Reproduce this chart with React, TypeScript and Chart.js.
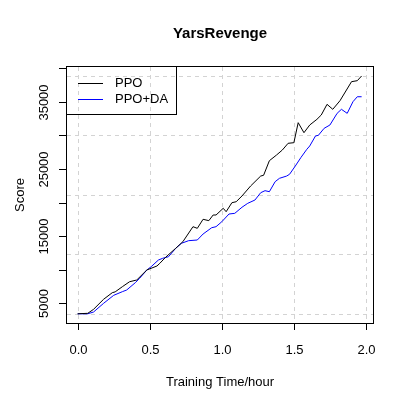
import { useEffect, useRef } from "react";
import { Chart, registerables } from "chart.js";
Chart.register(...registerables);

const TITLE = "YarsRevenge";
const X_LABEL = "Training Time/hour";
const Y_LABEL = "Score";
const SERIES_NAMES = ["PPO", "PPO+DA"];
const SERIES_COLORS = ["#000000", "#0000FF"];

const ppoTime = [0, 0.07, 0.11, 0.18, 0.24, 0.26, 0.31, 0.36, 0.41, 0.48, 0.55, 0.57, 0.61, 0.68, 0.73, 0.8, 0.83, 0.87, 0.91, 0.94, 0.96, 1.01, 1.03, 1.07, 1.1, 1.14, 1.2, 1.27, 1.29, 1.33, 1.38, 1.42, 1.46, 1.5, 1.53, 1.57, 1.61, 1.66, 1.69, 1.73, 1.77, 1.82, 1.9, 1.94, 1.97];
const ppoScore = [3440, 3510, 4100, 5600, 6580, 6700, 7470, 8210, 8470, 9960, 10550, 10950, 11850, 13180, 14170, 16400, 16160, 17500, 17300, 18140, 18140, 19140, 18630, 19970, 20120, 20970, 22460, 23940, 24050, 26220, 27070, 27810, 28810, 28900, 31880, 30390, 31530, 32380, 33020, 34610, 33870, 35150, 37980, 38130, 38830];

const daTime = [0, 0.07, 0.11, 0.18, 0.25, 0.31, 0.34, 0.4, 0.43, 0.48, 0.51, 0.56, 0.59, 0.63, 0.68, 0.72, 0.77, 0.83, 0.87, 0.93, 0.96, 1.0, 1.05, 1.09, 1.14, 1.18, 1.23, 1.27, 1.3, 1.33, 1.37, 1.4, 1.45, 1.47, 1.51, 1.55, 1.59, 1.61, 1.65, 1.67, 1.71, 1.75, 1.8, 1.83, 1.87, 1.91, 1.94, 1.97];
const daScore = [3440, 3440, 3700, 5000, 6190, 6730, 6980, 8070, 8720, 9960, 10450, 11440, 11700, 11930, 13180, 13930, 14320, 14420, 15310, 16250, 16400, 17140, 18290, 18390, 19290, 19880, 20370, 21460, 21760, 21610, 23100, 23600, 23940, 24200, 25430, 26730, 27920, 28410, 29900, 30000, 31040, 31530, 33270, 33870, 33270, 35000, 35740, 35740];

const xTicks = [0, 0.5, 1, 1.5, 2];
const xTickLabels = ["0.0", "0.5", "1.0", "1.5", "2.0"];
const yTicks = [5000, 10000, 15000, 20000, 25000, 30000, 35000, 40000];
const yTickLabels = ["5000", "", "15000", "", "25000", "", "35000", ""];

const X_MIN = -0.074;
const X_MAX = 2.049;
const Y_MIN = 2070;
const Y_MAX = 40165;

const FONT = '"Liberation Sans", Arial, Helvetica, sans-serif';

const allScores = [...ppoScore, ...daScore];
const dataMin = Math.min(...allScores);
const dataMax = Math.max(...allScores);
const yGrid = [0, 1, 2, 3, 4].map((i) => dataMin + ((dataMax - dataMin) * i) / 4);

const rPlot = {
  id: "rplot",
  beforeDatasetsDraw(chart: any) {
    const { ctx, chartArea: a, scales } = chart;
    const x = scales.x;
    const y = scales.y;
    ctx.save();
    ctx.strokeStyle = "#D3D3D3";
    ctx.lineWidth = 1;
    ctx.setLineDash([4, 4]);
    for (const v of xTicks) {
      const px = Math.round(x.getPixelForValue(v)) + 0.5;
      ctx.beginPath();
      ctx.moveTo(px, a.top);
      ctx.lineTo(px, a.bottom);
      ctx.stroke();
    }
    for (const v of yGrid) {
      const py = Math.round(y.getPixelForValue(v)) + 0.5;
      ctx.beginPath();
      ctx.moveTo(a.left, py);
      ctx.lineTo(a.right, py);
      ctx.stroke();
    }
    ctx.restore();
  },
  afterDraw(chart: any) {
    const { ctx, chartArea: a, scales } = chart;
    const x = scales.x;
    const y = scales.y;
    ctx.save();
    ctx.setLineDash([]);
    ctx.strokeStyle = "#000";
    ctx.lineWidth = 1;
    // box
    ctx.strokeRect(a.left - 0.5, a.top - 0.5, a.right - a.left + 1, a.bottom - a.top + 1);
    // x ticks
    ctx.fillStyle = "#000";
    ctx.font = `13px ${FONT}`;
    ctx.textAlign = "center";
    ctx.textBaseline = "middle";
    xTicks.forEach((v, i) => {
      const px = Math.round(x.getPixelForValue(v)) + 0.5;
      ctx.beginPath();
      ctx.moveTo(px, a.bottom);
      ctx.lineTo(px, a.bottom + 7);
      ctx.stroke();
      ctx.fillText(xTickLabels[i], px, a.bottom + 27);
    });
    // y ticks
    yTicks.forEach((v, i) => {
      const py = Math.round(y.getPixelForValue(v)) + 0.5;
      ctx.beginPath();
      ctx.moveTo(a.left, py);
      ctx.lineTo(a.left - 8, py);
      ctx.stroke();
      if (yTickLabels[i]) {
        ctx.save();
        ctx.translate(a.left - 23, py);
        ctx.rotate(-Math.PI / 2);
        ctx.fillText(yTickLabels[i], 0, 0);
        ctx.restore();
      }
    });
    // axis labels
    ctx.fillText(X_LABEL, (a.left + a.right) / 2, a.bottom + 59);
    ctx.save();
    ctx.translate(a.left - 47, (a.top + a.bottom) / 2);
    ctx.rotate(-Math.PI / 2);
    ctx.fillText(Y_LABEL, 0, 0);
    ctx.restore();
    // title
    ctx.font = `bold 15px ${FONT}`;
    ctx.fillText(TITLE, (a.left + a.right) / 2, 34);
    // legend
    ctx.font = `13px ${FONT}`;
    ctx.textAlign = "left";
    ctx.strokeStyle = "#000";
    ctx.strokeRect(a.left - 0.5, a.top - 0.5, 110, 48);
    SERIES_NAMES.forEach((name, i) => {
      const ly = Math.round(a.top + 16 + i * 16) + 0.5;
      ctx.strokeStyle = SERIES_COLORS[i];
      ctx.beginPath();
      ctx.moveTo(a.left + 11, ly);
      ctx.lineTo(a.left + 36, ly);
      ctx.stroke();
      ctx.fillStyle = "#000";
      ctx.fillText(name, a.left + 48, ly);
    });
    ctx.restore();
  },
};

export default function App() {
  const ref = useRef<HTMLCanvasElement | null>(null);
  useEffect(() => {
    if (!ref.current) return;
    const chart = new Chart(ref.current, {
      type: "line",
      data: {
        datasets: [
          {
            label: SERIES_NAMES[0],
            data: ppoTime.map((t, i) => ({ x: t, y: ppoScore[i] })),
            borderColor: SERIES_COLORS[0],
            borderWidth: 1,
            pointRadius: 0,
            tension: 0,
            fill: false,
          },
          {
            label: SERIES_NAMES[1],
            data: daTime.map((t, i) => ({ x: t, y: daScore[i] })),
            borderColor: SERIES_COLORS[1],
            borderWidth: 1,
            pointRadius: 0,
            tension: 0,
            fill: false,
          },
        ],
      },
      options: {
        animation: false,
        responsive: false,
        devicePixelRatio: 1,
        layout: { padding: { left: 67, top: 67, right: 34, bottom: 84 } },
        scales: {
          x: { type: "linear", min: X_MIN, max: X_MAX, display: false },
          y: { type: "linear", min: Y_MIN, max: Y_MAX, display: false },
        },
        plugins: { legend: { display: false }, title: { display: false }, tooltip: { enabled: false } },
        events: [],
      },
      plugins: [rPlot],
    });
    return () => chart.destroy();
  }, []);
  return (
    <div style={{ position: "fixed", left: 0, top: 0, width: 407, height: 407, background: "#fff" }}>
      <canvas ref={ref} width={407} height={407} style={{ display: "block" }} />
    </div>
  );
}
